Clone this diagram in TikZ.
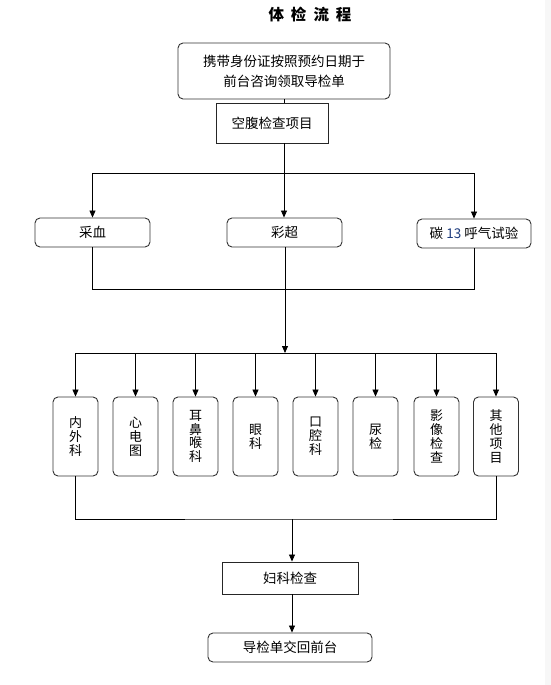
\documentclass[tikz,border=0pt]{standalone}
\usepackage{fontspec}
\setmainfont{Noto Sans CJK SC}
\usepackage{tikz}
\usetikzlibrary{arrows.meta}
\tikzset{>={Triangle[length=7pt,width=6pt]}}
\definecolor{numblue}{RGB}{30,60,125}
\tikzset{
    roundbox/.style={draw=black!80, line width=0.9pt, rounded corners=5pt, inner sep=0pt, font=\fontsize{13.5}{20}\selectfont, align=center},
    plainbox/.style={draw=black!85, line width=0.9pt, inner sep=0pt, font=\fontsize{13.5}{20}\selectfont},
    deptbox/.style={roundbox, minimum width=45pt, minimum height=79pt, font=\fontsize{13}{13.8}\selectfont}
}
\begin{document}
\begin{tikzpicture}[x=1pt, y=-1pt, line width=0.8pt]
    \useasboundingbox (0,0) rectangle (551,685);
    \fill[black!3] (545,0) rectangle (551,685);
    \node[font=\fontsize{15.5}{18}\selectfont\bfseries] (title) at (310,15) {体\hspace{7pt}检\hspace{7pt}流\hspace{7pt}程};
    % registration and fasting
    \node[roundbox, minimum width=212pt, minimum height=56pt] (reg) at (284,71) {携带身份证按照预约日期于\\前台咨询领取导检单};
    \node[plainbox, minimum width=112pt, minimum height=40pt] (fast) at (272,123) {空腹检查项目};
    \draw (reg.south) -- (reg.south |- fast.north);
    % first row
    \node[roundbox, minimum width=115pt, minimum height=29pt] (blood) at (92.5,232.5) {采血};
    \node[roundbox, minimum width=115pt, minimum height=29pt] (ultra) at (284.5,232.5) {彩超};
    \node[roundbox, minimum width=114pt, minimum height=29pt] (breath) at (474,233.5) {碳 {\color{numblue}13} 呼气试验};
    \coordinate (busa) at (284,173.5);
    \coordinate (busb) at (284,289.5);
    \draw (busa |- fast.south) -- (busa);
    \draw[->] (busa) -| (blood);
    \draw[->] (busa) -| (breath);
    \draw[->] (busa) -- (busa |- ultra.north);
    \draw (blood.south) |- (busb) -| (breath.south);
    % departments
    \node[deptbox] (d1) at (75.5,436.5) {内\\外\\科};
    \node[deptbox] (d2) at (135.5,436.5) {心\\电\\图};
    \node[deptbox] (d3) at (195.5,436.5) {耳\\鼻\\喉\\科};
    \node[deptbox] (d4) at (255.5,436.5) {眼\\科};
    \node[deptbox] (d5) at (315.5,436.5) {口\\腔\\科};
    \node[deptbox] (d6) at (375.5,436.5) {尿\\检};
    \node[deptbox] (d7) at (436.5,436.5) {影\\像\\检\\查};
    \node[deptbox] (d8) at (496,436.5) {其\\他\\项\\目};
    \coordinate (busc) at (285,353);
    \coordinate (busd) at (292,519);
    \draw[->] (ultra.south -| busc) -- (busc);
    \draw (d1.north |- busc) -- (d8.north |- busc);
    \draw[->] (d1.north |- busc) -- (d1.north);
    \draw[->] (d2.north |- busc) -- (d2.north);
    \draw[->] (d3.north |- busc) -- (d3.north);
    \draw[->] (d4.north |- busc) -- (d4.north);
    \draw[->] (d5.north |- busc) -- (d5.north);
    \draw[->] (d6.north |- busc) -- (d6.north);
    \draw[->] (d7.north |- busc) -- (d7.north);
    \draw[->] (d8.north |- busc) -- (d8.north);
    \draw (d1.south) |- (busd) -| (d8.south);
    % gynaecology and return
    \node[plainbox, minimum width=136pt, minimum height=32pt] (gyn) at (290,578) {妇科检查};
    \node[roundbox, minimum width=164pt, minimum height=29pt] (back) at (290,647.5) {导检单交回前台};
    \draw[->] (busd) -- (busd |- gyn.north);
    \draw[->] (busd |- gyn.south) -- (busd |- back.north);
\end{tikzpicture}
\end{document}
